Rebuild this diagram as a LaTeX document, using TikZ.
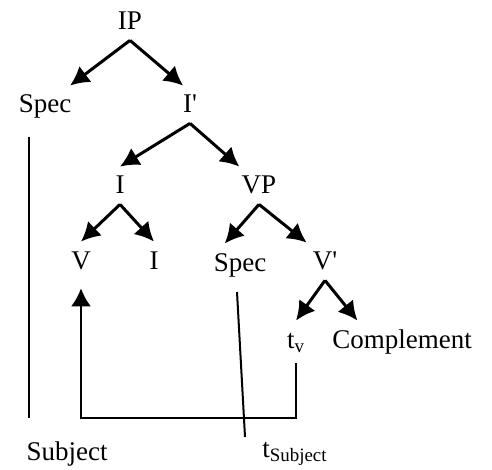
\documentclass[tikz,border=0pt]{standalone}
\usepackage{fontspec}
\setmainfont{Liberation Serif}
\usetikzlibrary{arrows.meta}
\tikzset{
  cat/.style={anchor=base, font=\fontsize{13.5}{16}\selectfont, text height=9.5pt, text depth=1pt,
    inner xsep=1pt, inner ysep=4pt, minimum width=18pt},
  branch/.style={line width=1.5pt, -{Latex[length=9.5pt,width=10pt]}},
  link/.style={line width=1pt},
}
\begin{document}
\begin{tikzpicture}[x=0.5pt,y=-0.5pt]
\useasboundingbox (0,0) rectangle (492,470);
\node[cat] (ip) at (130,30){IP};
\node[cat] (specA) at (45,113){Spec};
\node[cat] (ibar) at (190,113){I\textquotesingle};
\draw[branch](ip.south) -- (specA);
\draw[branch](ip.south) -- (ibar.110);
\node[cat] (iA) at (120,194){I};
\node[cat] (vp) at (259,194){VP};
\draw[branch](ibar.south) -- (iA.north);
\draw[branch](ibar.south) -- (vp.north west);
\node[cat] (vA) at (81,269){V};
\node[cat] (iB) at (154,269){I};
\draw[branch](iA.south) -- (vA.north);
\draw[branch](iA.south) -- (iB.north);
\node[cat] (specB) at (240,271){Spec};
\node[cat] (vbar) at (325,270){V\textquotesingle};
\draw[branch](vp.south) -- (specB.129);
\draw[branch](vp.south) -- (vbar.north west);
\node[cat] (tv) at (296,348){t\textsubscript{v}};
\node[cat] (compl) at (402,348){Complement};
\draw[branch](vbar.south) -- (tv.north);
\draw[branch](vbar.south) -- (compl.157);
\node[cat] (subj) at (67,460){Subject};
\node[cat] (tsubj) at (295,457){t\textsubscript{Subject}};
% traces
\coordinate (floor) at (0,418);
\coordinate (sA) at (29,137);
\coordinate (sB) at (29,418);
\coordinate (tA) at (237,292);
\coordinate (tB) at (245,437);
\draw[link](sA) -- (sB);
\draw[link](tA) -- (tB);
\draw[link, shorten <=2.5pt, shorten >=4.5pt, -{Latex[length=9pt,width=10pt]}]
  (tv.south) -- (tv.south |- floor) -| (vA.south);
\end{tikzpicture}
\end{document}
